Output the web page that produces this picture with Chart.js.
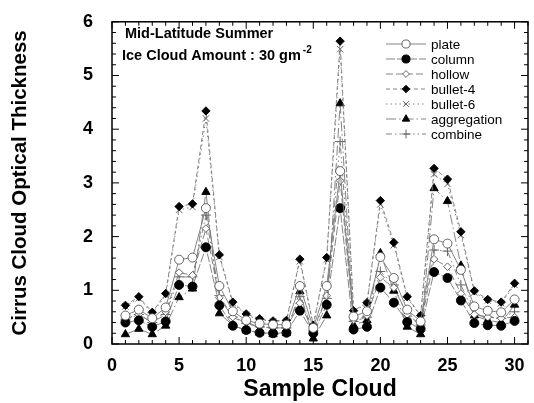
<!DOCTYPE html>
<html>
<head>
<meta charset="utf-8">
<script src="https://cdn.jsdelivr.net/npm/chart.js@4.4.0/dist/chart.umd.min.js"></script>
<style>
  html, body { margin: 0; padding: 0; background: #fff; }
  #wrap { width: 534px; height: 403px; }
</style>
</head>
<body>
<div id="wrap"><canvas id="chart" width="534" height="403"></canvas></div>
<script>
// Cirrus cloud optical thickness for 30 sample clouds
const samples = [1,2,3,4,5,6,7,8,9,10,11,12,13,14,15,16,17,18,19,20,21,22,23,24,25,26,27,28,29,30];
const plate       = [0.53,0.64,0.48,0.68,1.57,1.61,2.53,1.08,0.61,0.44,0.38,0.36,0.36,1.08,0.30,1.08,3.22,0.51,0.61,1.62,1.23,0.64,0.42,1.95,1.87,1.38,0.70,0.62,0.59,0.83];
const column      = [0.40,0.44,0.32,0.42,1.10,1.07,1.80,0.72,0.34,0.26,0.21,0.20,0.21,0.62,0.20,0.73,2.53,0.27,0.32,1.05,0.77,0.41,0.28,1.34,1.23,0.81,0.39,0.35,0.34,0.43];
const hollow      = [0.47,0.55,0.40,0.60,1.33,1.28,2.15,0.86,0.50,0.40,0.32,0.30,0.30,0.76,0.25,0.90,3.04,0.45,0.53,1.24,1.05,0.55,0.36,1.58,1.44,0.94,0.55,0.50,0.48,0.50];
const bullet4     = [0.72,0.88,0.59,0.94,2.56,2.61,4.34,1.66,0.78,0.56,0.47,0.43,0.44,1.58,0.35,1.61,5.64,0.62,0.77,2.67,1.89,0.88,0.53,3.27,3.07,2.09,0.99,0.83,0.78,1.13];
const bullet6     = [0.70,0.85,0.57,0.91,2.50,2.55,4.20,1.62,0.76,0.54,0.45,0.42,0.43,1.54,0.34,1.57,5.49,0.60,0.75,2.60,1.84,0.86,0.52,3.16,2.98,2.03,0.96,0.81,0.76,1.10];
const aggregation = [0.18,0.28,0.18,0.34,0.87,1.03,2.83,0.57,0.35,0.25,0.21,0.18,0.20,0.98,0.10,0.53,4.48,0.35,0.44,1.69,0.99,0.32,0.18,2.90,2.66,1.46,0.53,0.44,0.40,0.73];
const combine     = [0.45,0.55,0.40,0.55,1.25,1.25,2.40,0.90,0.50,0.38,0.32,0.30,0.30,0.88,0.25,0.85,3.77,0.42,0.50,1.35,1.10,0.52,0.35,1.75,1.73,1.10,0.55,0.50,0.48,0.60];

const xTicks = [0,5,10,15,20,25,30];
const yTicks = [0,1,2,3,4,5,6];

const FONT = '"Liberation Sans", Arial, sans-serif';

function series(label, values, style) {
    return Object.assign({
        label: label,
        data: values.map((v, i) => ({ x: samples[i], y: v })),
        borderColor: '#777',
        borderWidth: 0.9,
        pointBorderColor: '#000',
        pointBackgroundColor: '#000',
        pointBorderWidth: 0.9,
        tension: 0,
        fill: false
    }, style);
}

const datasets = [
    series('plate', plate, { pointStyle: 'circle', pointRadius: 4.5, pointBackgroundColor: '#fff', pointBorderColor: '#555', borderDash: [] }),
    series('column', column, { pointStyle: 'circle', pointRadius: 4.5, borderDash: [9, 2] }),
    series('hollow', hollow, { pointStyle: 'rectRot', pointRadius: 3.8, pointBackgroundColor: '#fff', pointBorderColor: '#555', borderDash: [7, 3] }),
    series('bullet-4', bullet4, { pointStyle: 'rectRot', pointRadius: 4.2, borderDash: [4, 3] }),
    series('bullet-6', bullet6, { pointStyle: 'crossRot', pointRadius: 4.5, pointBorderColor: '#555', borderDash: [1.5, 3] }),
    series('aggregation', aggregation, { pointStyle: 'triangle', pointRadius: 4.8, borderDash: [10, 3, 1.5, 3] }),
    series('combine', combine, { pointStyle: 'cross', pointRadius: 5, pointBorderColor: '#555', borderDash: [6, 3, 1.5, 3, 1.5, 3] })
];

// frame, inward ticks, labels inside the plot and the legend
const decorations = {
    id: 'decorations',
    afterDraw(chart) {
        const ctx = chart.ctx;
        const a = chart.chartArea;
        const xs = chart.scales.x, ys = chart.scales.y;
        ctx.save();
        ctx.strokeStyle = '#000';
        ctx.lineWidth = 1.5;
        ctx.strokeRect(a.left, a.top, a.right - a.left, a.bottom - a.top);

        ctx.lineWidth = 1;
        ctx.beginPath();
        for (let v = 0; v <= 31; v++) {
            const px = xs.getPixelForValue(v);
            const len = v % 5 === 0 ? 7 : 4;
            ctx.moveTo(px, a.bottom); ctx.lineTo(px, a.bottom - len);
            ctx.moveTo(px, a.top); ctx.lineTo(px, a.top + len);
        }
        for (let k = 0; k <= 30; k++) {
            const py = ys.getPixelForValue(k / 5);
            const len = k % 5 === 0 ? 7 : 4;
            ctx.moveTo(a.left, py); ctx.lineTo(a.left + len, py);
            ctx.moveTo(a.right, py); ctx.lineTo(a.right - len, py);
        }
        ctx.stroke();

        // text in the plot
        ctx.fillStyle = '#000';
        ctx.textBaseline = 'alphabetic';
        ctx.textAlign = 'left';
        ctx.font = 'bold 14.5px ' + FONT;
        ctx.fillText('Mid-Latitude Summer', 125, 38);
        const t = 'Ice Cloud Amount : 30 gm';
        ctx.fillText(t, 122, 60);
        const w = ctx.measureText(t).width;
        ctx.font = 'bold 10px ' + FONT;
        ctx.fillText('-2', 122 + w + 2, 53);

        // legend
        ctx.font = '13.5px ' + FONT;
        ctx.textBaseline = 'middle';
        chart.data.datasets.forEach((ds, i) => {
            const y = 44 + i * 15;
            ctx.save();
            ctx.strokeStyle = ds.borderColor;
            ctx.lineWidth = ds.borderWidth;
            ctx.setLineDash(ds.borderDash);
            ctx.beginPath();
            ctx.moveTo(386, y); ctx.lineTo(426, y);
            ctx.stroke();
            ctx.restore();
            ctx.save();
            ctx.fillStyle = ds.pointBackgroundColor;
            ctx.strokeStyle = ds.pointBorderColor;
            ctx.lineWidth = ds.pointBorderWidth;
            Chart.helpers.drawPoint(ctx, {
                pointStyle: ds.pointStyle,
                radius: ds.pointRadius * 0.9,
                borderWidth: ds.pointBorderWidth,
                rotation: 0
            }, 406, y);
            ctx.restore();
            ctx.fillStyle = '#000';
            ctx.fillText(ds.label, 431, y + 1);
        });
        ctx.restore();
    }
};

new Chart(document.getElementById('chart').getContext('2d'), {
    type: 'line',
    data: { datasets: datasets },
    options: {
        responsive: false,
        animation: false,
        layout: { padding: { left: 0, right: 6, top: 17, bottom: 0 } },
        plugins: {
            legend: { display: false },
            tooltip: { enabled: false }
        },
        scales: {
            x: {
                type: 'linear',
                min: 0,
                max: 31,
                afterBuildTicks: s => { s.ticks = xTicks.map(v => ({ value: v })); },
                afterFit: s => { s.height = 59; },
                grid: { display: false },
                border: { display: false },
                ticks: { color: '#000', font: { family: FONT, size: 18, weight: 'bold' }, padding: 3, maxRotation: 0 },
                title: { display: true, text: 'Sample Cloud', color: '#000', font: { family: FONT, size: 23, weight: 'bold' }, padding: { top: 2, bottom: 0 } }
            },
            y: {
                min: 0,
                max: 6,
                afterBuildTicks: s => { s.ticks = yTicks.map(v => ({ value: v })); },
                afterFit: s => { s.width = 112; },
                grid: { display: false },
                border: { display: false },
                ticks: { color: '#000', font: { family: FONT, size: 18, weight: 'bold' }, padding: 11 },
                title: { display: true, text: 'Cirrus Cloud Optical Thickness', color: '#000', font: { family: FONT, size: 20.5, weight: 'bold' }, padding: { top: 8, bottom: 0 } }
            }
        }
    },
    plugins: [decorations]
});
</script>
</body>
</html>
